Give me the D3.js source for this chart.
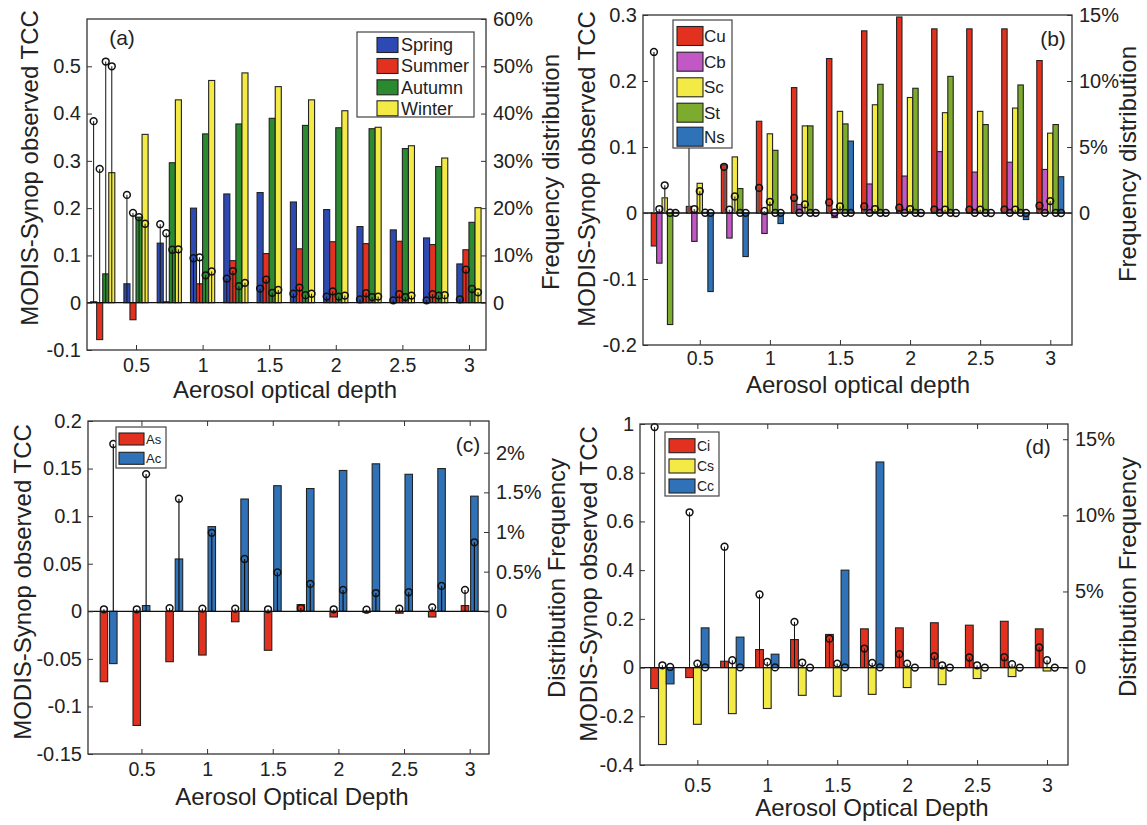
<!DOCTYPE html>
<html>
<head>
<meta charset="utf-8">
<script src="https://cdn.jsdelivr.net/npm/d3@7"></script>
<style>
  body { margin: 0; background: #fff; }
  text { font-family: "Liberation Sans", Arial, Helvetica, sans-serif; fill: #222; }
</style>
</head>
<body>
<svg id="fig" width="1147" height="825"></svg>
<script>
// ---- shared categories ----
const aod = [0.25, 0.5, 0.75, 1, 1.25, 1.5, 1.75, 2, 2.25, 2.5, 2.75, 3];
const xTickValues = [0.5, 1, 1.5, 2, 2.5, 3];

// ---- (a) seasons: TCC difference and frequency (%) ----
const seasonNames = ["Spring", "Summer", "Autumn", "Winter"];
const springTCC = [0.002, 0.040, 0.126, 0.200, 0.230, 0.233, 0.213, 0.197, 0.161, 0.154, 0.137, 0.082];
const summerTCC = [-0.078, -0.036, 0.002, 0.040, 0.089, 0.104, 0.114, 0.129, 0.125, 0.130, 0.123, 0.112];
const autumnTCC = [0.061, 0.181, 0.296, 0.357, 0.378, 0.390, 0.375, 0.370, 0.368, 0.326, 0.288, 0.170];
const winterTCC = [0.275, 0.356, 0.429, 0.470, 0.486, 0.457, 0.429, 0.406, 0.371, 0.332, 0.306, 0.201];
const springFreq = [38.4, 22.8, 16.6, 9.4, 5.1, 3.0, 1.9, 1.3, 0.7, 0.5, 0.5, 0.7];
const summerFreq = [28.3, 19.0, 14.7, 9.6, 6.7, 4.9, 3.2, 2.4, 2.0, 1.8, 1.8, 7.0];
const autumnFreq = [51.0, 18.1, 11.2, 5.8, 3.5, 2.1, 1.6, 1.3, 1.2, 1.2, 1.5, 2.9];
const winterFreq = [50.0, 16.7, 11.3, 6.6, 4.2, 2.7, 1.9, 1.5, 1.3, 1.5, 1.6, 2.2];

// ---- (b) low clouds ----
const lowNames = ["Cu", "Cb", "Sc", "St", "Ns"];
const cuTCC = [-0.050, 0.010, 0.073, 0.139, 0.190, 0.234, 0.276, 0.297, 0.279, 0.279, 0.279, 0.231];
const cbTCC = [-0.076, -0.043, -0.038, -0.031, 0.013, -0.007, 0.044, 0.056, 0.093, 0.062, 0.077, 0.066];
const scTCC = [0.023, 0.045, 0.085, 0.120, 0.132, 0.154, 0.164, 0.175, 0.152, 0.154, 0.159, 0.121];
const stTCC = [-0.169, 0.001, 0.037, 0.095, 0.132, 0.135, 0.195, 0.189, 0.207, 0.134, 0.194, 0.134];
const nsTCC = [0.001, -0.119, -0.066, -0.016, 0.001, 0.109, 0.001, 0.001, 0.0, 0.0, -0.010, 0.055];
const cuFreq = [12.2, 7.5, 3.5, 1.9, 1.15, 0.8, 0.5, 0.4, 0.25, 0.25, 0.25, 0.55];
const cbFreq = [0.3, 0.3, 0.25, 0.15, 0.02, 0.02, 0.01, 0.01, 0.01, 0.01, 0.01, 0.01];
const scFreq = [2.1, 1.65, 1.25, 0.85, 0.65, 0.5, 0.3, 0.3, 0.25, 0.25, 0.25, 0.9];
const stFreq = [0.02, 0.02, 0.01, 0.01, 0.01, 0.01, 0.01, 0.01, 0.01, 0.01, 0.01, 0.01];
const nsFreq = [0.01, 0.01, 0.01, 0.01, 0.01, 0.01, 0.01, 0.0, 0.0, 0.0, 0.0, 0.0];

// ---- (c) middle clouds ----
const midNames = ["As", "Ac"];
const asTCC = [-0.074, -0.120, -0.053, -0.046, -0.011, -0.041, 0.007, -0.006, -0.001, -0.002, -0.006, 0.006];
const acTCC = [-0.055, 0.006, 0.055, 0.089, 0.118, 0.132, 0.129, 0.148, 0.155, 0.144, 0.150, 0.121];
const asFreq = [0.025, 0.025, 0.04, 0.034, 0.034, 0.025, 0.04, 0.025, 0.02, 0.034, 0.05, 0.27];
const acFreq = [2.11, 1.73, 1.42, 0.99, 0.66, 0.49, 0.345, 0.27, 0.23, 0.24, 0.32, 0.87];

// ---- (d) high clouds ----
const highNames = ["Ci", "Cs", "Cc"];
const ciTCC = [-0.086, -0.041, 0.026, 0.074, 0.115, 0.136, 0.159, 0.163, 0.184, 0.174, 0.190, 0.159];
const csTCC = [-0.316, -0.233, -0.189, -0.168, -0.114, -0.118, -0.110, -0.082, -0.070, -0.045, -0.037, -0.014];
const ccTCC = [-0.067, 0.163, 0.125, 0.055, 0.0, 0.400, 0.844, 0.0, 0.0, 0.0, 0.0, 0.0];
const ciFreq = [15.8, 10.2, 7.94, 4.8, 3.0, 1.9, 1.25, 0.88, 0.75, 0.66, 0.68, 1.32];
const csFreq = [0.15, 0.26, 0.48, 0.37, 0.33, 0.26, 0.31, 0.26, 0.15, 0.15, 0.22, 0.48];
const ccFreq = [0.04, 0.01, 0.01, 0.01, 0.0, 0.01, 0.01, 0.0, 0.0, 0.0, 0.0, 0.0];

// ---- colours ----
const C = {
  blueA: "#2d4ab4", red: "#e2321f", greenA: "#2b8a2f", yellow: "#f3ea46",
  purple: "#c257c6", olive: "#7cab2d", blueB: "#2f72b8"
};

const panels = [
  {
    box: { l: 87, r: 486, t: 19, b: 350 }, xDom: [0.132, 3.128],
    yDom: [-0.1, 0.6], y2Dom: [-10, 60],
    yTicks: [-0.1, 0, 0.1, 0.2, 0.3, 0.4, 0.5], y2Ticks: [0, 10, 20, 30, 40, 50, 60],
    series: [
      { name: seasonNames[0], color: C.blueA, tcc: springTCC, freq: springFreq },
      { name: seasonNames[1], color: C.red, tcc: summerTCC, freq: summerFreq },
      { name: seasonNames[2], color: C.greenA, tcc: autumnTCC, freq: autumnFreq },
      { name: seasonNames[3], color: C.yellow, tcc: winterTCC, freq: winterFreq }
    ],
    barFactor: 1, stemColor: "#111", stemWidth: 1, topTicks: false, xTickDy: 15,
    legend: { x: 357, y: 32, w: 117, h: 85, px: 377, pw: 21, ph: 15, tx: 401, rows: [45, 66, 87.3, 108.3], font: 18 },
    tag: { text: "(a)", x: 122, y: 38 },
    yLabels: [{ text: "MODIS-Synop observed TCC", x: 30, y: 168 }],
    y2Label: { text: "Frequency distribution", x: 551, y: 172 },
    xLabel: { text: "Aerosol optical depth", x: 285, y: 390 }
  },
  {
    box: { l: 643, r: 1072, t: 15, b: 345 }, xDom: [0.095, 3.155],
    yDom: [-0.2, 0.3], y2Dom: [-10, 15],
    yTicks: [-0.2, -0.1, 0, 0.1, 0.2, 0.3], y2Ticks: [0, 5, 10, 15],
    series: [
      { name: lowNames[0], color: C.red, tcc: cuTCC, freq: cuFreq },
      { name: lowNames[1], color: C.purple, tcc: cbTCC, freq: cbFreq },
      { name: lowNames[2], color: C.yellow, tcc: scTCC, freq: scFreq },
      { name: lowNames[3], color: C.olive, tcc: stTCC, freq: stFreq },
      { name: lowNames[4], color: C.blueB, tcc: nsTCC, freq: nsFreq }
    ],
    barFactor: 1, stemColor: "#555", stemWidth: 1.5, topTicks: false, xTickDy: 13,
    legend: { x: 673, y: 20, w: 59, h: 128, px: 677, pw: 26, ph: 19, tx: 704, rows: [36, 61.7, 87.3, 112.7, 136.7], font: 17 },
    tag: { text: "(b)", x: 1053, y: 39 },
    yLabels: [{ text: "MODIS-Synop observed TCC", x: 587, y: 169 }],
    y2Label: { text: "Frequency distribution", x: 1128, y: 164 },
    xLabel: { text: "Aerosol optical depth", x: 858, y: 385 }
  },
  {
    box: { l: 88, r: 489, t: 421, b: 754 }, xDom: [0.093, 3.147],
    yDom: [-0.15, 0.2], y2Dom: [-1.8, 2.4],
    yTicks: [-0.15, -0.1, -0.05, 0, 0.05, 0.1, 0.15, 0.2], y2Ticks: [0, 0.5, 1, 1.5, 2],
    series: [
      { name: midNames[0], color: C.red, tcc: asTCC, freq: asFreq },
      { name: midNames[1], color: C.blueB, tcc: acTCC, freq: acFreq }
    ],
    barFactor: 0.8, stemColor: "#111", stemWidth: 1.2, topTicks: true, xTickDy: 15,
    legend: { x: 116, y: 427, w: 50, h: 41, px: 119, pw: 25, ph: 12, tx: 146, rows: [439, 458.3], font: 13 },
    tag: { text: "(c)", x: 468, y: 445 },
    yLabels: [{ text: "MODIS-Synop observed TCC", x: 23, y: 582 }],
    y2Label: { text: "Distribution Frequency", x: 557, y: 578 },
    xLabel: { text: "Aerosol Optical Depth", x: 292, y: 797 }
  },
  {
    box: { l: 640, r: 1068, t: 424, b: 765 }, xDom: [0.09, 3.15],
    yDom: [-0.4, 1], y2Dom: [-6.4, 16],
    yTicks: [-0.4, -0.2, 0, 0.2, 0.4, 0.6, 0.8, 1], y2Ticks: [0, 5, 10, 15],
    series: [
      { name: highNames[0], color: C.red, tcc: ciTCC, freq: ciFreq },
      { name: highNames[1], color: C.yellow, tcc: csTCC, freq: csFreq },
      { name: highNames[2], color: C.blueB, tcc: ccTCC, freq: ccFreq }
    ],
    barFactor: 1, stemColor: "#111", stemWidth: 1, topTicks: true, xTickDy: 20,
    legend: { x: 665, y: 432, w: 54, h: 64, px: 669, pw: 26, ph: 14, tx: 697, rows: [445.7, 466, 486], font: 14 },
    tag: { text: "(d)", x: 1038, y: 447 },
    yLabels: [{ text: "MODIS-Synop observed TCC", x: 589, y: 584 }],
    y2Label: { text: "Distribution Frequency", x: 1128, y: 577 },
    xLabel: { text: "Aerosol Optical Depth", x: 872, y: 808 }
  }
];

const svg = d3.select("#fig");
svg.append("rect").attr("width", 1147).attr("height", 825).attr("fill", "#fff");

const fmtLeft = d => (Math.abs(d) < 1e-9 ? "0" : String(+d.toFixed(2)));
const fmtRight = d => (Math.abs(d) < 1e-9 ? "0" : String(+d.toFixed(2)) + "%");

function drawPanel(p) {
  const g = svg.append("g");
  const { l, r, t, b } = p.box;
  const x = d3.scaleLinear().domain(p.xDom).range([l, r]);
  const y = d3.scaleLinear().domain(p.yDom).range([b, t]);
  const y2 = d3.scaleLinear().domain(p.y2Dom).range([b, t]);

  // grouped-bar geometry (bars spread across a fraction of the 0.25 spacing)
  const n = p.series.length;
  const spacing = aod[1] - aod[0];
  const groupW = Math.min(0.8, n / (n + 1.5)) * spacing;
  const slot = groupW / n;
  const offset = i => -groupW / 2 + slot * (i + 0.5);
  const barW = x(slot * p.barFactor) - x(0);

  // bars
  p.series.forEach((s, i) => {
    g.append("g").selectAll("rect").data(s.tcc).join("rect")
      .attr("x", (v, k) => x(aod[k] + offset(i)) - barW / 2)
      .attr("width", barW)
      .attr("y", v => Math.min(y(v), y(0)))
      .attr("height", v => Math.abs(y(v) - y(0)))
      .attr("fill", s.color)
      .attr("stroke", "#222").attr("stroke-width", 1.1);
  });

  // baseline at zero
  g.append("line").attr("x1", l).attr("x2", r).attr("y1", y(0)).attr("y2", y(0))
    .attr("stroke", "#111").attr("stroke-width", 1.3);

  // frequency stems with open circle markers
  p.series.forEach((s, i) => {
    const sg = g.append("g");
    sg.selectAll("line").data(s.freq).join("line")
      .attr("x1", (v, k) => x(aod[k] + offset(i)))
      .attr("x2", (v, k) => x(aod[k] + offset(i)))
      .attr("y1", y2(0)).attr("y2", v => y2(v))
      .attr("stroke", p.stemColor).attr("stroke-width", p.stemWidth);
    sg.selectAll("circle").data(s.freq).join("circle")
      .attr("cx", (v, k) => x(aod[k] + offset(i)))
      .attr("cy", v => y2(v))
      .attr("r", 3.4)
      .attr("fill", "none").attr("stroke", "#111").attr("stroke-width", 1.5);
  });

  // axes box
  g.append("rect").attr("x", l).attr("y", t).attr("width", r - l).attr("height", b - t)
    .attr("fill", "none").attr("stroke", "#333").attr("stroke-width", 1.3);

  // x axis ticks (inside) and labels
  const xAxis = d3.axisBottom(x).tickValues(xTickValues).tickSizeInner(-5).tickSizeOuter(0)
    .tickFormat(d => String(d));
  const xg = g.append("g").attr("transform", `translate(0,${b})`).call(xAxis);
  xg.select(".domain").remove();
  xg.selectAll(".tick line").attr("stroke", "#333");
  xg.selectAll(".tick text").attr("y", p.xTickDy).attr("dy", "0.35em")
    .attr("font-size", 19.5).attr("fill", "#222")
    .style("font-family", '"Liberation Sans", Arial, sans-serif');
  if (p.topTicks) {
    const tg = g.append("g").attr("transform", `translate(0,${t})`)
      .call(d3.axisTop(x).tickValues(xTickValues).tickSizeInner(-5).tickSizeOuter(0).tickFormat(""));
    tg.select(".domain").remove();
    tg.selectAll(".tick line").attr("stroke", "#333");
  }

  // left axis
  const yg = g.append("g").attr("transform", `translate(${l},0)`)
    .call(d3.axisLeft(y).tickValues(p.yTicks).tickSizeInner(-5).tickSizeOuter(0).tickFormat(fmtLeft));
  yg.select(".domain").remove();
  yg.selectAll(".tick line").attr("stroke", "#333");
  yg.selectAll(".tick text").attr("x", -6).attr("font-size", 20).attr("fill", "#222")
    .style("font-family", '"Liberation Sans", Arial, sans-serif');

  // right axis (frequency)
  const y2g = g.append("g").attr("transform", `translate(${r},0)`)
    .call(d3.axisRight(y2).tickValues(p.y2Ticks).tickSizeInner(-5).tickSizeOuter(0).tickFormat(fmtRight));
  y2g.select(".domain").remove();
  y2g.selectAll(".tick line").attr("stroke", "#333");
  y2g.selectAll(".tick text").attr("x", 7).attr("font-size", 20).attr("fill", "#222")
    .style("font-family", '"Liberation Sans", Arial, sans-serif');

  // legend
  const L = p.legend;
  const lg = g.append("g");
  lg.append("rect").attr("x", L.x).attr("y", L.y).attr("width", L.w).attr("height", L.h)
    .attr("fill", "#fff").attr("stroke", "#444").attr("stroke-width", 1.2);
  p.series.forEach((s, i) => {
    lg.append("rect").attr("x", L.px).attr("y", L.rows[i] - L.ph / 2)
      .attr("width", L.pw).attr("height", L.ph)
      .attr("fill", s.color).attr("stroke", "#222").attr("stroke-width", 1.1);
    lg.append("text").attr("x", L.tx).attr("y", L.rows[i]).attr("dy", "0.35em")
      .attr("font-size", L.font).text(s.name);
  });

  // panel tag
  g.append("text").attr("x", p.tag.x).attr("y", p.tag.y).attr("dy", "0.35em")
    .attr("text-anchor", "middle").attr("font-size", 21).text(p.tag.text);

  // axis titles
  p.yLabels.forEach(lb => {
    g.append("text").attr("transform", `translate(${lb.x},${lb.y}) rotate(-90)`)
      .attr("text-anchor", "middle").attr("dy", "0.35em").attr("font-size", 24).text(lb.text);
  });
  g.append("text").attr("transform", `translate(${p.y2Label.x},${p.y2Label.y}) rotate(-90)`)
    .attr("text-anchor", "middle").attr("dy", "0.35em").attr("font-size", 24).text(p.y2Label.text);
  g.append("text").attr("x", p.xLabel.x).attr("y", p.xLabel.y).attr("dy", "0.35em")
    .attr("text-anchor", "middle").attr("font-size", 24).text(p.xLabel.text);
}

panels.forEach(drawPanel);
</script>
</body>
</html>
